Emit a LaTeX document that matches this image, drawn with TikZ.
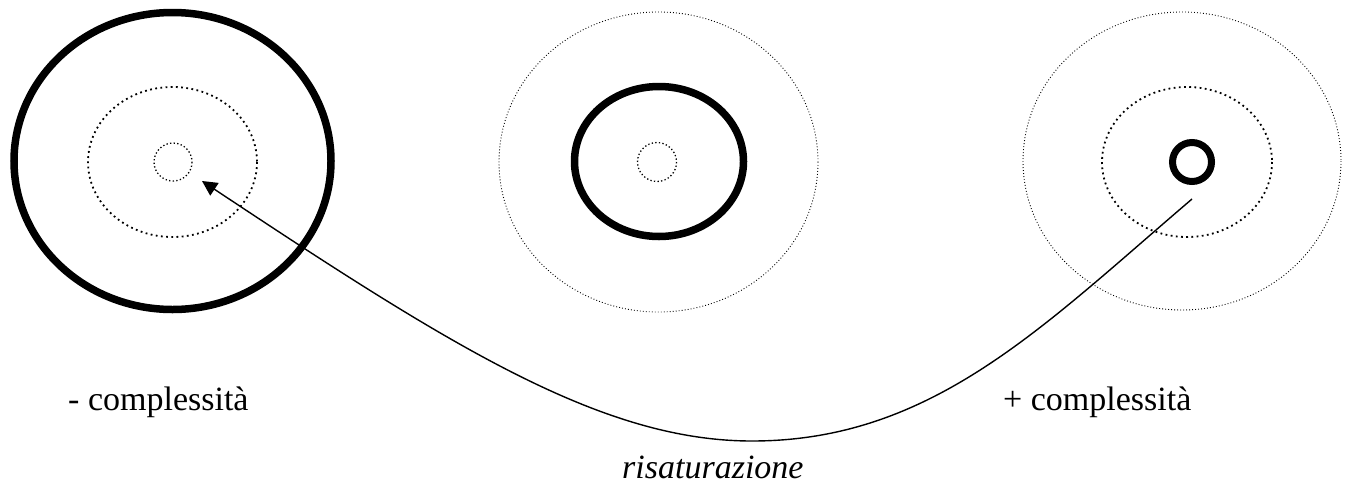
\documentclass[tikz,border=0pt]{standalone}
\usepackage{fontspec}
\setmainfont{Liberation Serif}
\usetikzlibrary{arrows.meta}
\begin{document}
\begin{tikzpicture}[x=1pt,y=-1pt,
  thickring/.style={line width=7.5pt},
  finedots/.style={line width=0.9pt,dash pattern=on 0.9pt off 2.1pt},
  bigdots/.style={line width=1.8pt,dash pattern=on 1.8pt off 3.4pt},
  smalldots/.style={line width=1.3pt,dash pattern=on 1.3pt off 2.3pt},
  label/.style={font=\fontsize{34}{40}\selectfont,inner sep=0pt,anchor=base west},
  connector/.style={line width=1.4pt,-{Triangle[length=15pt,width=15pt]}}]
\useasboundingbox (0,0) rectangle (1351,493);
% left group
\draw[thickring] (172.5,161) ellipse (158.5 and 148.5);
\draw[bigdots] (172.5,162) ellipse (84.5 and 75);
\draw[smalldots] (173,162) circle (19);
% middle group
\draw[finedots] (658.5,162) ellipse (159.5 and 150);
\draw[thickring] (659,161.5) ellipse (84.5 and 75);
\draw[smalldots] (657,162) circle (19.5);
% right group
\draw[finedots] (1182,161) ellipse (159 and 149);
\draw[bigdots] (1187,162) ellipse (85 and 75);
\draw[thickring,line width=7pt] (1192,162) circle (19.5);
% texts
\node[label] (less) at (68,410) {- complessità};
\node[label] (more) at (1003,410) {+ complessità};
\node[label,font=\fontsize{34}{40}\selectfont\itshape] (ris) at (622,478) {risaturazione};
% connector
\coordinate (start) at (1192,199);
\coordinate (bottom) at (752,441);
\coordinate (tip) at (202,181);
\draw[connector] (start) .. controls (1042,327) and (932,441) .. (bottom)
  .. controls (602,441) and (452,347) .. (tip);
\end{tikzpicture}
\end{document}
